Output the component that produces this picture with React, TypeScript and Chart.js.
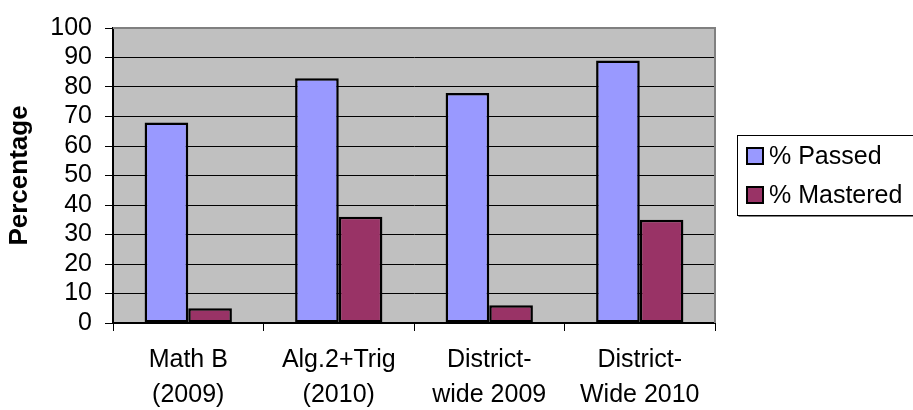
import React, { useEffect, useRef } from "react";
import { Chart, registerables } from "chart.js";

Chart.register(...registerables);

const categories: string[][] = [
  ["Math B", "(2009)"],
  ["Alg.2+Trig", "(2010)"],
  ["District-", "wide 2009"],
  ["District-", "Wide 2010"],
];
const seriesNames = ["% Passed", "% Mastered"];
const passed = [68, 83, 78, 89];
const mastered = [5, 36, 6, 35];
const seriesColors = ["#9999FF", "#993366"];
const yMin = 0;
const yMax = 100;
const yStep = 10;

const FONT = "'Liberation Sans', Arial, sans-serif";

const plotBg = {
  id: "plotBg",
  beforeDraw(chart: any) {
    const { ctx, chartArea: a } = chart;
    ctx.save();
    ctx.fillStyle = "#C0C0C0";
    ctx.fillRect(a.left, a.top, a.right - a.left, a.bottom - a.top);
    ctx.restore();
  },
  afterDatasetsDraw(chart: any) {
    const { ctx, chartArea: a } = chart;
    ctx.save();
    ctx.strokeStyle = "#808080";
    ctx.lineWidth = 2;
    ctx.beginPath();
    ctx.moveTo(a.left, a.top);
    ctx.lineTo(a.right, a.top);
    ctx.lineTo(a.right, a.bottom);
    ctx.stroke();
    ctx.restore();
  },
};

const boxLegend = {
  id: "boxLegend",
  afterDraw(chart: any) {
    const { ctx } = chart;
    const left = 737.5;
    const top = 135.5;
    const bottom = 215.5;
    ctx.save();
    ctx.strokeStyle = "#000000";
    ctx.lineWidth = 1;
    ctx.strokeRect(left, top, 300, bottom - top);
    ctx.strokeStyle = "#808080";
    ctx.beginPath();
    ctx.moveTo(left + 1, bottom + 1);
    ctx.lineTo(913, bottom + 1);
    ctx.stroke();
    const rows = [156, 195];
    ctx.font = `25px ${FONT}`;
    ctx.textBaseline = "middle";
    ctx.textAlign = "left";
    chart.data.datasets.forEach((ds: any, i: number) => {
      const cy = rows[i];
      ctx.fillStyle = ds.backgroundColor;
      ctx.fillRect(747, cy - 8, 16, 16);
      ctx.strokeStyle = "#000000";
      ctx.lineWidth = 2;
      ctx.strokeRect(747, cy - 8, 16, 16);
      ctx.fillStyle = "#000000";
      ctx.fillText(ds.label, 769, cy + 1);
    });
    ctx.restore();
  },
};

export default function App() {
  const ref = useRef<HTMLCanvasElement | null>(null);
  useEffect(() => {
    if (!ref.current) return;
    const chart = new Chart(ref.current, {
      type: "bar",
      data: {
        labels: categories,
        datasets: [
          {
            label: seriesNames[0],
            data: passed,
            backgroundColor: seriesColors[0],
            borderColor: "#000000",
            borderWidth: 2.5,
            borderSkipped: false,
            categoryPercentage: 0.58,
            barPercentage: 1,
          },
          {
            label: seriesNames[1],
            data: mastered,
            backgroundColor: seriesColors[1],
            borderColor: "#000000",
            borderWidth: 2.5,
            borderSkipped: false,
            categoryPercentage: 0.58,
            barPercentage: 1,
          },
        ],
      },
      options: {
        responsive: false,
        animation: false,
        layout: { padding: { left: 0, right: 198, top: 25, bottom: 0 } },
        plugins: {
          legend: { display: false },
          tooltip: { enabled: false },
          title: { display: false },
        },
        scales: {
          x: {
            offset: true,
            grid: {
              display: true,
              drawOnChartArea: false,
              offset: true,
              tickLength: 8,
              color: "#000000",
              lineWidth: 1,
            },
            border: { display: true, color: "#000000", width: 2 },
            ticks: {
              color: "#000000",
              font: { family: FONT, size: 25, lineHeight: 1.4 },
              padding: 12,
              maxRotation: 0,
              minRotation: 0,
              autoSkip: false,
            },
            afterFit(scale: any) {
              scale.height = 87;
            },
          },
          y: {
            min: yMin,
            max: yMax,
            ticks: {
              stepSize: yStep,
              autoSkip: false,
              color: "#000000",
              font: { family: FONT, size: 25 },
              padding: 13,
            },
            grid: {
              color: (c: any) => (c.tick && c.tick.value === yMax ? "#808080" : "#000000"),
              tickColor: "#000000",
              tickLength: 8,
              lineWidth: 1,
            },
            border: { display: true, color: "#000000", width: 2 },
            title: {
              display: true,
              text: "Percentage",
              color: "#000000",
              font: { family: FONT, size: 26, weight: "bold" },
              padding: { top: 4, bottom: 4 },
            },
            afterFit(scale: any) {
              scale.width = 113;
            },
          },
        },
      },
      plugins: [plotBg, boxLegend],
    });
    return () => chart.destroy();
  }, []);
  return (
    <div style={{ position: "fixed", left: 0, top: 0, width: 913, height: 410, background: "#ffffff" }}>
      <canvas ref={ref} width={913} height={410} style={{ width: 913, height: 410, display: "block" }} />
    </div>
  );
}
